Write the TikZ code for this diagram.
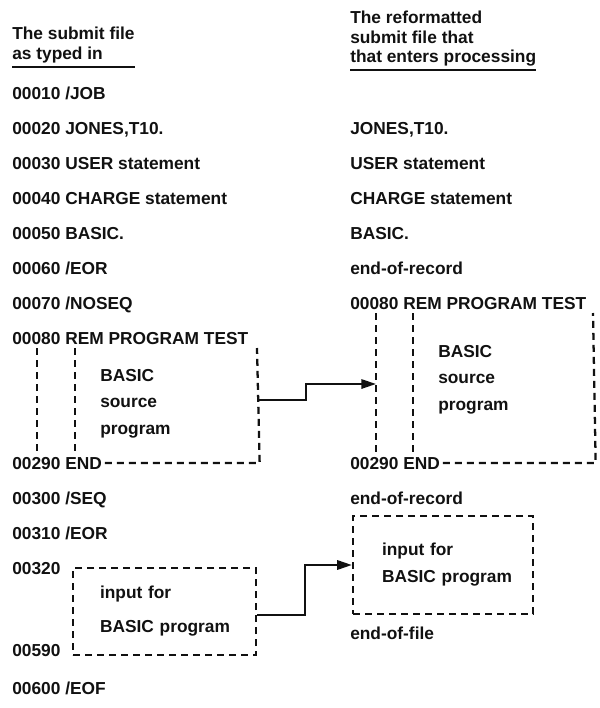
\documentclass[tikz,border=0pt]{standalone}
\usepackage{fontspec}
\setmainfont{Liberation Sans}
\usetikzlibrary{arrows.meta,calc}
\definecolor{cInk}{HTML}{111111}

\begin{document}
\begin{tikzpicture}[
  x=0.75pt, y=-0.75pt,
  font=\fontsize{13}{15}\selectfont\bfseries,
  >={Triangle[length=11pt,width=7pt]},
  txt/.style={anchor=base west, inner sep=0pt, text=cInk},
  uline/.style={draw=cInk, line width=1.8pt},
  dline/.style={draw=cInk, line width=1.7pt, dash pattern=on 5.25pt off 3.75pt},
  dbox/.style={rectangle, draw=cInk, line width=1.7pt, dash pattern=on 5.25pt off 3.75pt,
               text=cInk, align=left, inner ysep=0pt, inner xsep=#1},
  flow/.style={->, draw=cInk, line width=1.6pt},
]
\useasboundingbox (0,0) rectangle (600,708);

% ---------- Headers ----------
\node[txt] (hdrL1) at (12,39) {The submit file};
\node[txt] (hdrL2) at (12,59) {as typed in};
\node[txt] (hdrR1) at (350,23) {The reformatted};
\node[txt] (hdrR2) at (350,43) {submit file that};
\node[txt] (hdrR3) at (350,62) {that enters processing};
\draw[uline] ([yshift=-3pt]hdrL2.south west) -- ([yshift=-3pt]hdrL2.south west -| hdrL1.east);
\draw[uline] ([yshift=-3pt]hdrR3.south west) -- ([yshift=-3pt]hdrR3.south east);

% ---------- Submit file as typed in ----------
\node[txt] (s10) at (12,99)  {00010 /JOB};
\node[txt] (s20) at (12,134) {00020 JONES,T10.};
\node[txt] (s30) at (12,169) {00030 USER statement};
\node[txt] (s40) at (12,204) {00040 CHARGE statement};
\node[txt] (s50) at (12,239) {00050 BASIC.};
\node[txt] (s60) at (12,274) {00060 /EOR};
\node[txt] (s70) at (12,309) {00070 /NOSEQ};
\node[txt] (s80) at (12,344) {00080 REM PROGRAM TEST};
\node[txt] (l1t1) at (100,381) {BASIC};
\node[txt] (l1t2) at (100,407) {source};
\node[txt] (l1t3) at (100,434) {program};
\node[txt] (s290) at (12,469) {00290 END};
\node[txt] (s300) at (12,504) {00300 /SEQ};
\node[txt] (s310) at (12,539) {00310 /EOR};
\node[txt] (s320) at (12,574) {00320};
\node[dbox=20.25pt, text width=96.75pt, minimum height=65.25pt,
      font=\fontsize{13}{25.5}\selectfont\bfseries] (lbox2) at (164.5,611.5)
  {input for\\\mbox{BASIC program}};
\node[txt] (s590) at (12,656) {00590};
\node[txt] (s600) at (12,694) {00600 /EOF};

% ---------- Reformatted submit file ----------
\node[txt] (r20) at (350,134) {JONES,T10.};
\node[txt] (r30) at (350,169) {USER statement};
\node[txt] (r40) at (350,204) {CHARGE statement};
\node[txt] (r50) at (350,239) {BASIC.};
\node[txt] (reor1) at (350,274) {end-of-record};
\node[txt] (r80) at (350,309) {00080 REM PROGRAM TEST};
\node[txt] (r1t1) at (438,357) {BASIC};
\node[txt] (r1t2) at (438,383) {source};
\node[txt] (r1t3) at (438,410) {program};
\node[txt] (r290) at (350,469) {00290 END};
\node[txt] (reor2) at (350,504) {end-of-record};
\node[dbox=21.75pt, text width=91.5pt, minimum height=73.5pt,
      font=\fontsize{13}{20.25}\selectfont\bfseries] (rbox2) at (443,565)
  {input for\\\mbox{BASIC program}};
\node[txt] (reof) at (350,639) {end-of-file};

% ---------- Dashed program blocks ----------
\coordinate (l1a) at (37,348);  \coordinate (l1b) at (37,455);
\coordinate (l1c) at (75,348);  \coordinate (l1d) at (75,455);
\coordinate (l1e) at (257,348);
\draw[dline] (l1a) -- (l1b);
\draw[dline] (l1c) -- (l1d);
\draw[dline] ([xshift=2pt]s290.east) -- ([xshift=2pt]s290.east -| l1e) -- (l1e);

\coordinate (r1a) at (376,313); \coordinate (r1b) at (376,455);
\coordinate (r1c) at (413,313); \coordinate (r1d) at (413,455);
\coordinate (r1e) at (593,313);
\draw[dline] (r1a) -- (r1b);
\draw[dline] (r1c) -- (r1d);
\draw[dline] ([xshift=2pt]r290.east) -- ([xshift=2pt]r290.east -| r1e) -- (r1e);

% ---------- Arrows ----------
\coordinate (src1) at (257,400);
\coordinate (dst1) at (376,384);
\coordinate (knee1) at (306,0);
\draw[flow] (src1) -- (src1 -| knee1) -- (dst1 -| knee1) -- (dst1);
\coordinate (knee2) at (305,0);
\draw[flow] ([yshift=-2.5pt]lbox2.east) -- ([yshift=-2.5pt]lbox2.east -| knee2) -- (rbox2.west -| knee2) -- (rbox2.west);

\end{tikzpicture}
\end{document}
